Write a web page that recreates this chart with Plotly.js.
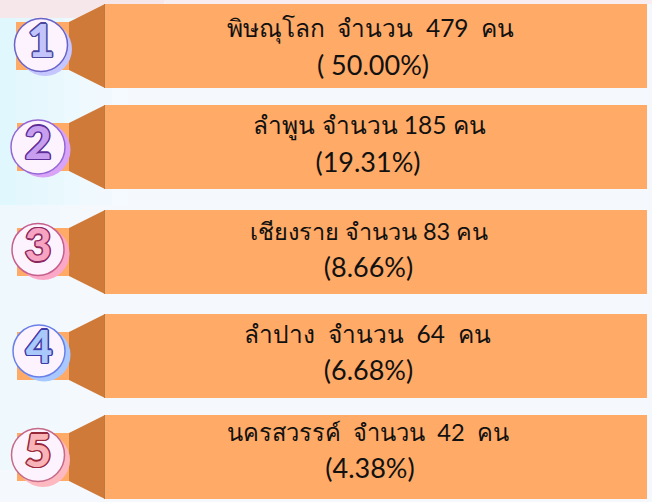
<!DOCTYPE html>
<html><head><meta charset="utf-8">
<script src="https://cdn.plot.ly/plotly-3.0.1.min.js"></script>
<style>html,body{margin:0;padding:0;background:#f5f9fe;overflow:hidden}</style>
</head><body><div id="c" style="width:652px;height:502px"></div>
<script>
const ranks = ['1','2','3','4','5'];
const provinces = ['พิษณุโลก','ลำพูน','เชียงราย','ลำปาง','นครสวรรค์'];
const counts = [479,185,83,64,42];
const shares = ['( 50.00%)','(19.31%)','(8.66%)','(6.68%)','(4.38%)'];

const wide = [true,false,false,true,true];
const boxTop = [4,105,210,314,415];
const boxH = 84, boxL = 105, boxR = 647, neckL = 69;
const neckTop = [22,123,228,332,433];
const neckH = 48;
const squareL = [16,17,17,17,17];
const lineA = [31,128,234,337,435];
const lineB = [68,165,270,373,471];
const lineAX = [370.5,369.5,369,367.5,368];
const lineBX = [373,368,368.5,368.5,370];
const lineASize = [24.5,24.5,23.5,24.5,23.7];
const circX = [41,38,38,39,38], circY = [45,147,249.5,351,455], circD = [53,54,52,52,53];
const shadowDX = [4,5,5,5,5], shadowDY = [4,3,4,4,5];
const ringCol = ['#6a63c8','#9468d4','#c65f8c','#6a80e8','#c56a88'];
const shadowCol = ['#c5c5ff','#d9a4f8','#fba7c8','#a8c8ff','#fdb8c0'];
const digitCol = ['#c3c4fb','#c79fee','#f7a3c2','#a9c9fb','#f9b4b8'];
const digitEdge = ['#4a469c','#5c2f98','#8c2a60','#3f3ba8','#96283c'];
const washCyan = ['#e0f7fd','#e3f7fd','#e6f8fd','#e9f8fd','#ecf9fe','#eff9fe','#f2f9fe','#f4faff'];
const washPale = ['#eef8fd','#f0f8fd','#f2f9fe','#f4f9fe'];

const FONT = 'Lato,"Noto Sans",sans-serif';
const orange = '#ffaa66', dark = '#cf7a38';

const traces = [];
ranks.forEach((r,i)=>{
  traces.push({type:'scatter',mode:'lines',fill:'toself',fillcolor:dark,
    line:{width:0},hoverinfo:'skip',
    x:[neckL,boxL,boxL,neckL,neckL],
    y:[neckTop[i],boxTop[i],boxTop[i]+boxH,neckTop[i]+neckH,neckTop[i]]});
  traces.push({type:'scatter',mode:'lines',fill:'toself',fillcolor:orange,
    line:{width:0},hoverinfo:'skip',
    x:[squareL[i],neckL,neckL,squareL[i],squareL[i]],
    y:[neckTop[i],neckTop[i],neckTop[i]+neckH,neckTop[i]+neckH,neckTop[i]]});
});
traces.push({type:'bar',orientation:'h',base:boxL,x:ranks.map(()=>boxR-boxL),
  y:boxTop.map(t=>t+boxH/2),width:boxH,marker:{color:orange,line:{width:0}},hoverinfo:'skip'});
ranks.forEach((r,i)=>{
  traces.push({type:'scatter',mode:'lines',hoverinfo:'skip',line:{color:'#bb7a45',width:1},
    x:[boxL-0.5,boxL-0.5],y:[boxTop[i],boxTop[i]+boxH]});
});
traces.push({type:'scatter',mode:'markers',hoverinfo:'skip',
  x:circX.map((v,i)=>v+shadowDX[i]),y:circY.map((v,i)=>v+shadowDY[i]),
  marker:{size:circD.map(d=>d+1),color:shadowCol,opacity:1,line:{width:0}}});
traces.push({type:'scatter',mode:'markers',hoverinfo:'skip',x:circX,y:circY,
  marker:{size:circD,color:'#fdf3fe',opacity:1,line:{width:1.5,color:ringCol}}});
ranks.forEach((r,i)=>{
  const e = digitEdge[i];
  traces.push({type:'scatter',mode:'text',hoverinfo:'skip',x:[circX[i]],y:[circY[i]],text:[r],
    textposition:'middle center',
    textfont:{family:'Lato,"Noto Sans",sans-serif',size:46,weight:900,color:digitCol[i],
      shadow:`1.5px 0 0 ${e},-1.5px 0 0 ${e},0 1.5px 0 ${e},0 -1.5px 0 ${e},1px 1px 0 ${e},-1px 1px 0 ${e},1px -1px 0 ${e},-1px -1px 0 ${e}`}});
});
traces.push({type:'scatter',mode:'text',hoverinfo:'skip',x:lineAX,y:lineA,
  text:provinces.map((p,i)=>{const s=wide[i]?'  ':' ';return `${p}${s}จำนวน${s}${counts[i]}${s}คน`;}),
  textposition:'middle center',textfont:{family:FONT,size:lineASize,color:'#111'}});
traces.push({type:'scatter',mode:'text',hoverinfo:'skip',x:lineBX,y:lineB,text:shares,
  textposition:'middle center',textfont:{family:FONT,size:27,color:'#111'}});

const shapes = [];
washCyan.forEach((c,i)=>shapes.push({type:'rect',layer:'below',x0:i*16,x1:(i+1)*16,y0:18,y1:205,fillcolor:c,line:{width:0}}));
washPale.forEach((c,i)=>shapes.push({type:'rect',layer:'below',x0:i*20,x1:(i+1)*20,y0:205,y1:470,fillcolor:c,line:{width:0}}));
shapes.push({type:'path',layer:'below',path:'M0,0 L165,0 L160,18 L0,18 Z',fillcolor:'#f6e8ea',line:{width:0}});
shapes.push({type:'rect',layer:'below',x0:165,x1:652,y0:0,y1:4,fillcolor:'#f8eef1',line:{width:0}});

const layout = {
  width:652,height:502,margin:{l:0,r:0,t:0,b:0},showlegend:false,
  paper_bgcolor:'#f5f9fe',plot_bgcolor:'rgba(0,0,0,0)',barmode:'overlay',shapes,
  xaxis:{range:[0,652],visible:false,fixedrange:true},
  yaxis:{range:[502,0],visible:false,fixedrange:true}
};
Plotly.newPlot('c',traces,layout,{displayModeBar:false,staticPlot:true});
</script></body></html>
